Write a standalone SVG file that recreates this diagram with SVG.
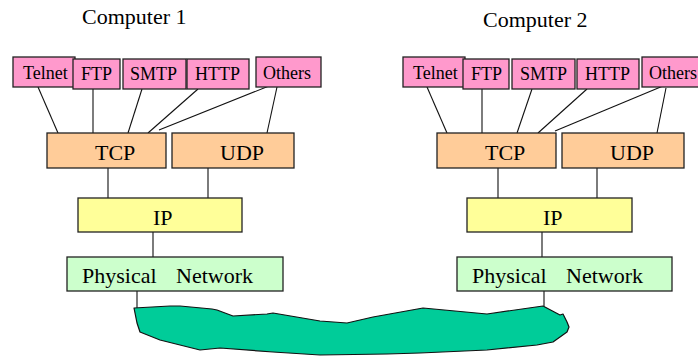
<svg xmlns="http://www.w3.org/2000/svg" width="698" height="356" viewBox="0 0 698 356">
<style>
text{font-family:"Liberation Serif","Times New Roman",serif;fill:#000}
.t18{font-size:18px}
.t22{font-size:22px}
.box{stroke:#222;stroke-width:1.3}
.app{fill:#FF99CC}
.tl{fill:#FFCC99}
.ip{fill:#FFFF99}
.ph{fill:#CCFFCC}
.ln{stroke:#111;stroke-width:1.1;fill:none}
.vl{stroke:#444;stroke-width:1.4;fill:none}
</style>
<rect width="698" height="356" fill="#fff"/>
<text class="t22" x="82" y="24">Computer 1</text>
<text class="t22" x="483" y="27">Computer 2</text>
<g id="connectors">
<line class="ln" x1="38" y1="87" x2="58" y2="133"/>
<line class="ln" x1="93" y1="89" x2="93" y2="133"/>
<line class="ln" x1="142" y1="89" x2="128" y2="133"/>
<line class="ln" x1="198" y1="89" x2="148" y2="133"/>
<line class="ln" x1="269" y1="86" x2="159" y2="130"/>
<line class="ln" x1="277" y1="87" x2="267" y2="133"/>
<line class="vl" x1="108" y1="168" x2="108" y2="198"/>
<line class="vl" x1="208" y1="168" x2="208" y2="198"/>
<line class="vl" x1="153" y1="232" x2="153" y2="257"/>
<line class="vl" x1="137" y1="291" x2="137" y2="308"/>
<line class="ln" x1="427" y1="87" x2="447" y2="133"/>
<line class="ln" x1="482" y1="89" x2="482" y2="133"/>
<line class="ln" x1="532" y1="89" x2="517" y2="133"/>
<line class="ln" x1="587" y1="89" x2="538" y2="133"/>
<line class="ln" x1="663" y1="86" x2="555" y2="131"/>
<line class="ln" x1="666" y1="88" x2="657" y2="133"/>
<line class="vl" x1="498" y1="168" x2="498" y2="198"/>
<line class="vl" x1="597" y1="168" x2="597" y2="198"/>
<line class="vl" x1="542" y1="232" x2="542" y2="257"/>
<line class="vl" x1="544" y1="291" x2="544" y2="306"/>
</g>
<g id="c1-telnet"><rect class="box app" x="13" y="57" width="62" height="30"/><text class="t18" x="23" y="79">Telnet</text></g>
<g id="c1-ftp"><rect class="box app" x="73" y="59" width="47" height="30"/><text class="t18" x="81" y="80">FTP</text></g>
<g id="c1-smtp"><rect class="box app" x="123" y="59" width="63" height="30"/><text class="t18" x="130" y="80">SMTP</text></g>
<g id="c1-http"><rect class="box app" x="187" y="59" width="62" height="30"/><text class="t18" x="195" y="80">HTTP</text></g>
<g id="c1-others"><rect class="box app" x="256" y="57" width="65" height="30"/><text class="t18" x="263" y="79">Others</text></g>
<g id="c1-tcp"><rect class="box tl" x="47" y="133" width="119" height="35"/><text class="t22" x="95" y="160">TCP</text></g>
<g id="c1-udp"><rect class="box tl" x="172" y="133" width="122" height="35"/><text class="t22" x="220" y="160">UDP</text></g>
<g id="c1-ip"><rect class="box ip" x="78" y="198" width="164" height="34"/><text class="t22" x="153" y="225">IP</text></g>
<g id="c1-phys"><rect class="box ph" x="67" y="257" width="216" height="34"/><text class="t22" x="82" y="283" word-spacing="14">Physical Network</text></g>
<g id="c2-telnet"><rect class="box app" x="403" y="57" width="62" height="30"/><text class="t18" x="413" y="79">Telnet</text></g>
<g id="c2-ftp"><rect class="box app" x="463" y="59" width="46" height="30"/><text class="t18" x="471" y="80">FTP</text></g>
<g id="c2-smtp"><rect class="box app" x="512" y="59" width="63" height="30"/><text class="t18" x="520" y="80">SMTP</text></g>
<g id="c2-http"><rect class="box app" x="577" y="59" width="62" height="30"/><text class="t18" x="585" y="80">HTTP</text></g>
<g id="c2-others"><rect class="box app" x="642" y="57" width="66" height="30"/><text class="t18" x="649" y="79">Others</text></g>
<g id="c2-tcp"><rect class="box tl" x="437" y="133" width="119" height="35"/><text class="t22" x="485" y="160">TCP</text></g>
<g id="c2-udp"><rect class="box tl" x="562" y="133" width="122" height="35"/><text class="t22" x="610" y="160">UDP</text></g>
<g id="c2-ip"><rect class="box ip" x="467" y="198" width="165" height="34"/><text class="t22" x="543" y="225">IP</text></g>
<g id="c2-phys"><rect class="box ph" x="457" y="257" width="215" height="34"/><text class="t22" x="472" y="283" word-spacing="14">Physical Network</text></g>
<g id="network">
<path d="M134,308 L170,306 L180,306 L212,309 L217,310 L233,316 L267,314 L273,313 L320,321 L347,323 L373,317 L423,308 L487,314 L543,306 L560,315 L563,314 L567,322 L569,327 L567,332 L553,342 L537,345 L487,350 L420,353 L387,354 L320,355 L273,352 L220,348 L200,350 L160,340 L140,332 L137,323 Z" fill="#00CC99" stroke="#111" stroke-width="1.2" stroke-linejoin="round"/>
</g>
</svg>
